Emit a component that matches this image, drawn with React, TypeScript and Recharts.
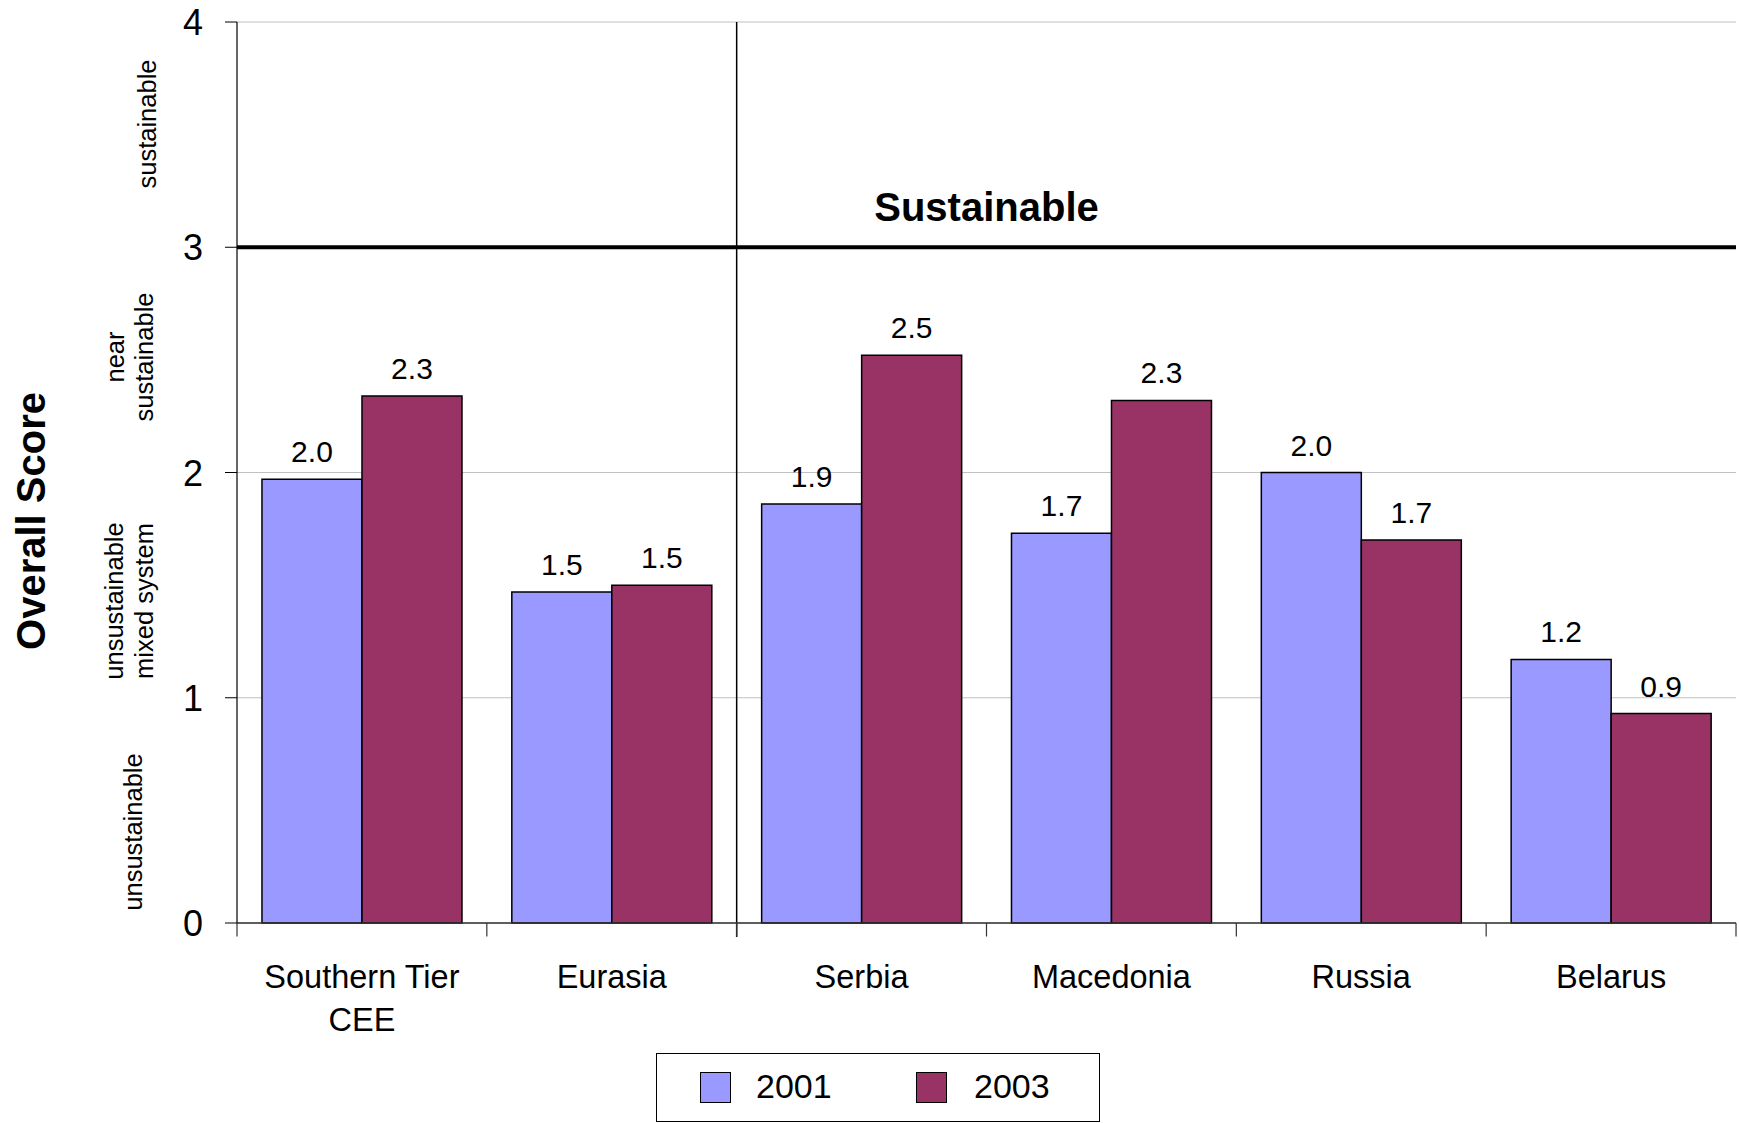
import React from 'react';
import {
  BarChart,
  Bar,
  XAxis,
  YAxis,
  CartesianGrid,
  ReferenceLine,
  LabelList,
  Legend,
} from 'recharts';

const categories = ['Southern Tier\nCEE', 'Eurasia', 'Serbia', 'Macedonia', 'Russia', 'Belarus'];
const values2001 = [1.97, 1.47, 1.86, 1.73, 2.0, 1.17];
const values2003 = [2.34, 1.5, 2.52, 2.32, 1.7, 0.93];
const labels2001 = ['2.0', '1.5', '1.9', '1.7', '2.0', '1.2'];
const labels2003 = ['2.3', '1.5', '2.5', '2.3', '1.7', '0.9'];
const yTicks = [0, 1, 2, 3, 4];
const boundaries = [0, 1, 2, 3, 4, 5, 6];

const FONT = '"Liberation Sans", Arial, sans-serif';
const C2001 = '#9999FF';
const C2003 = '#993366';

const data = categories.map((name, i) => ({
  name,
  idx: i,
  y2001: values2001[i],
  y2003: values2003[i],
  l2001: labels2001[i],
  l2003: labels2003[i],
}));

const YTick = ({ x, y, payload }: any) => (
  <text x={x} y={y} dy={13} textAnchor="end" fontSize={36} fontFamily={FONT} fill="#000">
    {payload.value}
  </text>
);

const XTick = ({ x, y, payload }: any) => {
  const lines = String(payload.value).split('\n');
  return (
    <text x={x} y={y} textAnchor="middle" fontSize={32.5} fontFamily={FONT} fill="#000">
      {lines.map((l, i) => (
        <tspan key={i} x={x} dy={i === 0 ? 65 : 43}>
          {l}
        </tspan>
      ))}
    </text>
  );
};

const renderLegend = (props: any) => {
  const items = props.payload || [];
  const pos = [
    { sw: 43, tx: 99 },
    { sw: 259, tx: 317 },
  ];
  return (
    <div
      style={{
        boxSizing: 'border-box',
        width: 444,
        height: 69,
        border: '1.5px solid #000',
        background: '#fff',
        position: 'relative',
        fontFamily: FONT,
        fontSize: 34,
      }}
    >
      {items.map((it: any, i: number) => (
        <React.Fragment key={it.value}>
          <div
            style={{
              position: 'absolute',
              left: pos[i].sw,
              top: 18,
              width: 29,
              height: 29,
              background: it.color,
              border: '1.5px solid #000',
            }}
          />
          <div style={{ position: 'absolute', left: pos[i].tx, top: 12, lineHeight: '40px', color: '#000' }}>
            {it.value}
          </div>
        </React.Fragment>
      ))}
    </div>
  );
};

const rotated = (x: number, y: number, text: string, size: number, bold = false) => (
  <text
    key={text + x + y}
    x={x}
    y={y}
    transform={`rotate(-90 ${x} ${y})`}
    textAnchor="middle"
    dominantBaseline="central"
    fontSize={size}
    fontWeight={bold ? 'bold' : 'normal'}
    fontFamily={FONT}
    fill="#000"
  >
    {text}
  </text>
);

export default function App() {
  return (
    <div style={{ position: 'absolute', left: 0, top: 0, width: 1739, height: 1123, background: '#fff' }}>
      <BarChart
        width={1739}
        height={1123}
        data={data}
        margin={{ top: 22, right: 3, bottom: 0, left: 0 }}
        barCategoryGap="10%"
        barGap={0}
      >
        <CartesianGrid vertical={false} stroke="#c0c0c0" />
        <XAxis
          dataKey="name"
          height={200}
          tickLine={false}
          tickSize={0}
          tickMargin={0}
          axisLine={{ stroke: '#333', strokeWidth: 1.5 }}
          tick={<XTick />}
          interval={0}
        />
        <XAxis
          xAxisId="n"
          dataKey="idx"
          type="number"
          domain={[0, 6]}
          ticks={boundaries}
          allowDataOverflow
          hide
        />
        <YAxis
          width={237}
          domain={[0, 4]}
          ticks={yTicks}
          tickSize={12}
          tickMargin={22}
          axisLine={{ stroke: '#000', strokeWidth: 1.2 }}
          tickLine={{ stroke: '#000' }}
          tick={<YTick />}
          interval={0}
        />
        <Legend
          content={renderLegend}
          layout="horizontal"
          verticalAlign="middle"
          align="center"
          wrapperStyle={{ position: 'absolute', left: 656, top: 1053, width: 444, height: 69 }}
        />
        <Bar dataKey="y2001" name="2001" fill={C2001} stroke="#000" strokeWidth={1.5} isAnimationActive={false}>
          <LabelList dataKey="l2001" position="top" offset={17} fontSize={30} fontFamily={FONT} fill="#000" />
        </Bar>
        <Bar dataKey="y2003" name="2003" fill={C2003} stroke="#000" strokeWidth={1.5} isAnimationActive={false}>
          <LabelList dataKey="l2003" position="top" offset={17} fontSize={30} fontFamily={FONT} fill="#000" />
        </Bar>
        <ReferenceLine
          y={3}
          stroke="#000"
          strokeWidth={4}
          label={{
            value: 'Sustainable',
            position: 'top',
            offset: 26,
            fontSize: 40,
            fontWeight: 'bold',
            fontFamily: FONT,
            fill: '#000',
          }}
        />
        <ReferenceLine
          xAxisId="n"
          segment={[
            { x: 2, y: 4 },
            { x: 2, y: -0.0625 },
          ]}
          stroke="#000"
          strokeWidth={1.5}
          ifOverflow="visible"
        />
        {boundaries.map((b) => (
          <ReferenceLine
            key={b}
            xAxisId="n"
            segment={[
              { x: b, y: 0 },
              { x: b, y: -0.06 },
            ]}
            stroke="#333"
            strokeWidth={1.2}
            ifOverflow="visible"
          />
        ))}
      </BarChart>
      <svg
        width={1739}
        height={1123}
        style={{ position: 'absolute', left: 0, top: 0, pointerEvents: 'none' }}
      >
        {rotated(31, 521, 'Overall Score', 40, true)}
        {rotated(147, 124, 'sustainable', 25.5)}
        {rotated(115, 357, 'near', 25.5)}
        {rotated(144, 357, 'sustainable', 25.5)}
        {rotated(114, 601, 'unsustainable', 25.5)}
        {rotated(144, 601, 'mixed system', 25.5)}
        {rotated(133, 832, 'unsustainable', 25.5)}
      </svg>
    </div>
  );
}
